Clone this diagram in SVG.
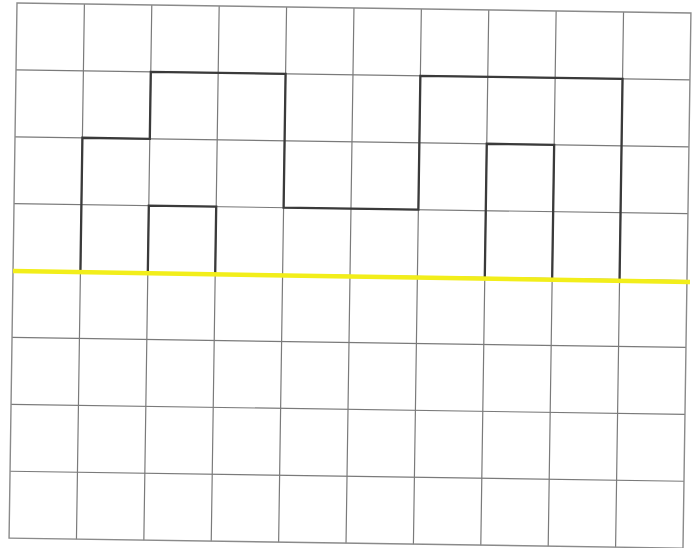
<svg xmlns="http://www.w3.org/2000/svg" width="700" height="548" viewBox="0 0 700 548">
  <style>
    .grid { stroke: #7a7a7a; stroke-width: 1.2; fill: none; }
    .border { stroke: #8a8a8a; stroke-width: 1.4; fill: none; }
    .shape { stroke: #3a3a3a; stroke-width: 2.3; fill: none; stroke-linejoin: miter; }
    .axis { stroke: #f2ee1a; stroke-width: 4.5; fill: none; }
  </style>
  <rect width="700" height="548" fill="#ffffff"/>
  <g id="sheet" transform="translate(17,3) rotate(0.85)">
    <g id="grid" class="grid">
      <path d="M67.4 0V535.2M134.8 0V535.2M202.2 0V535.2M269.6 0V535.2M337 0V535.2M404.4 0V535.2M471.8 0V535.2M539.2 0V535.2M606.6 0V535.2"/>
      <path d="M0 66.9H674M0 133.8H674M0 200.7H674M0 267.6H674M0 334.5H674M0 401.4H674M0 468.3H674"/>
    </g>
    <rect id="border" class="border" x="0" y="0" width="674" height="535.2"/>
    <g id="connectors" class="shape">
      <path id="outline" d="M67.4 267.6V133.8H134.8V66.9H269.6V200.7H404.4V66.9H606.6V267.6"/>
      <path id="notch-left" d="M134.8 267.6V200.7H202.2V267.6"/>
      <path id="notch-right" d="M471.8 267.6V133.8H539.2V267.6"/>
    </g>
  </g>
  <line id="yellow-line" class="axis" x1="13" y1="271" x2="690" y2="282"/>
</svg>
